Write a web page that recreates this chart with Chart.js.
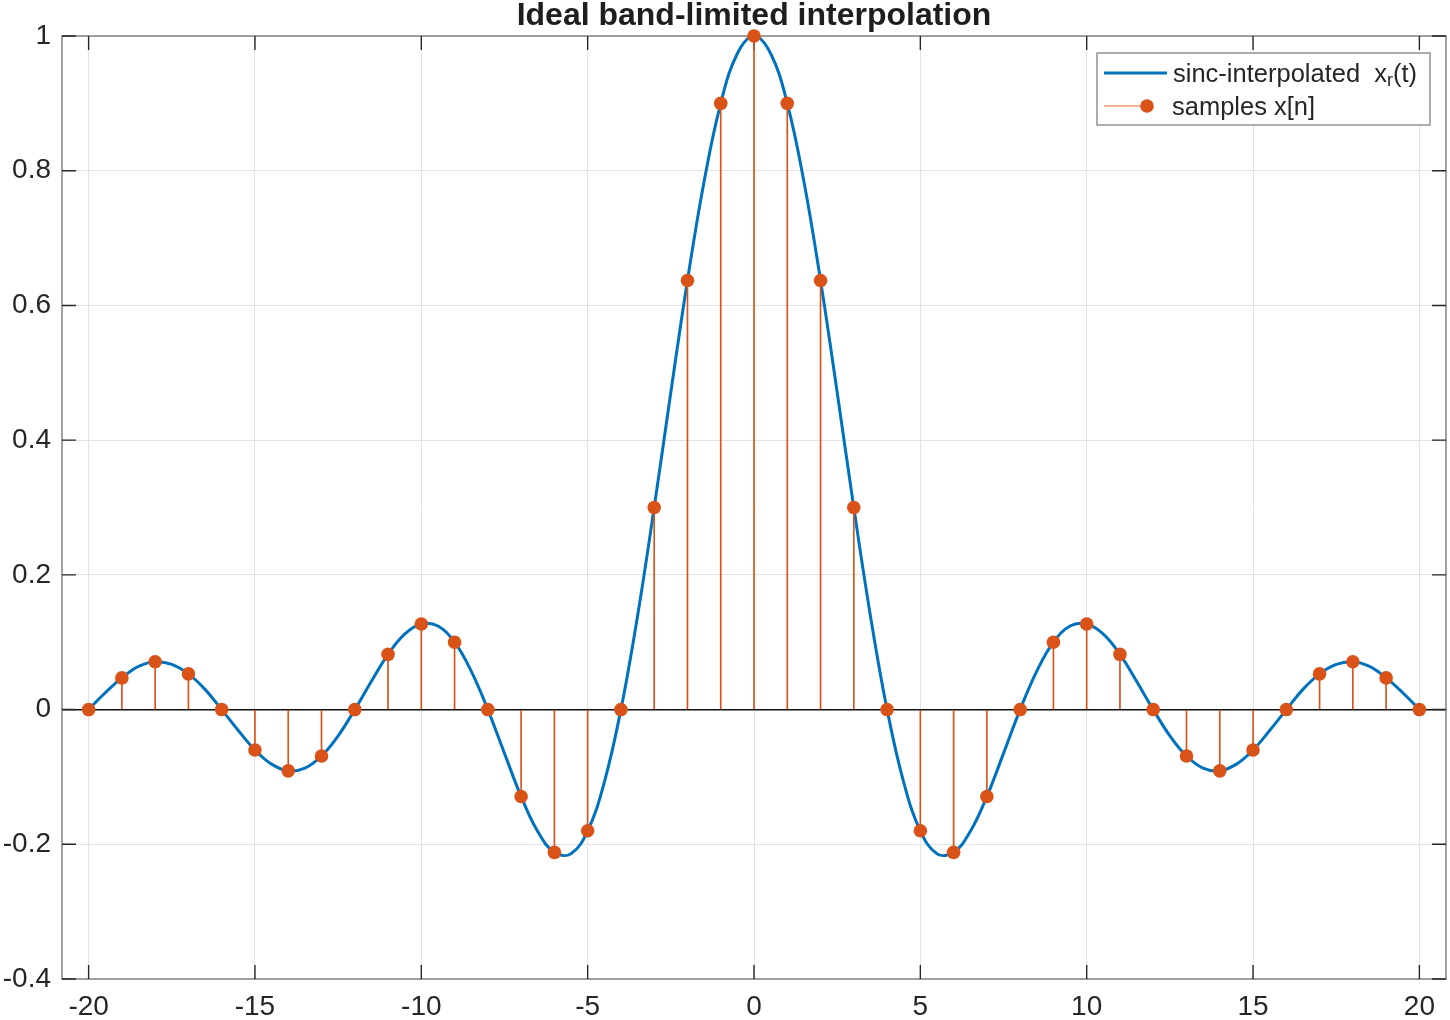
<!DOCTYPE html>
<html><head><meta charset="utf-8">
<script src="https://cdn.jsdelivr.net/npm/chart.js@4.4.0/dist/chart.umd.min.js"></script>
<style>html,body{margin:0;padding:0;background:#fff;} canvas{display:block;}</style>
</head><body>
<canvas id="c" width="1450" height="1020" style="width:1450px;height:1020px"></canvas>
<script>
// continuous sinc-interpolated curve x_r(t), read at half-unit steps
const curveT = [-20,-19.5,-19,-18.5,-18,-17.5,-17,-16.5,-16,-15.5,-15,-14.5,-14,-13.5,-13,-12.5,-12,-11.5,-11,-10.5,-10,-9.5,-9,-8.5,-8,-7.5,-7,-6.5,-6,-5.5,-5,-4.5,-4,-3.5,-3,-2.5,-2,-1.5,-1,-0.5,0,0.5,1,1.5,2,2.5,3,3.5,4,4.5,5,5.5,6,6.5,7,7.5,8,8.5,9,9.5,10,10.5,11,11.5,12,12.5,13,13.5,14,14.5,15,15.5,16,16.5,17,17.5,18,18.5,19,19.5,20];
const curveY = [0,0.025,0.047,0.064,0.071,0.067,0.053,0.030,0,-0.031,-0.060,-0.081,-0.091,-0.087,-0.069,-0.039,0,0.042,0.082,0.112,0.127,0.124,0.100,0.057,0,-0.065,-0.129,-0.181,-0.212,-0.214,-0.180,-0.108,0,0.139,0.300,0.471,0.637,0.784,0.900,0.974,1,0.974,0.900,0.784,0.637,0.471,0.300,0.139,0,-0.108,-0.180,-0.214,-0.212,-0.181,-0.129,-0.065,0,0.057,0.100,0.124,0.127,0.112,0.082,0.042,0,-0.039,-0.069,-0.087,-0.091,-0.081,-0.060,-0.031,0,0.030,0.053,0.067,0.071,0.064,0.047,0.025,0];
// samples x[n]
const sampleN = [-20,-19,-18,-17,-16,-15,-14,-13,-12,-11,-10,-9,-8,-7,-6,-5,-4,-3,-2,-1,0,1,2,3,4,5,6,7,8,9,10,11,12,13,14,15,16,17,18,19,20];
const sampleX = [0,0.047,0.071,0.053,0,-0.060,-0.091,-0.069,0,0.082,0.127,0.100,0,-0.129,-0.212,-0.180,0,0.300,0.637,0.900,1,0.900,0.637,0.300,0,-0.180,-0.212,-0.129,0,0.100,0.127,0.082,0,-0.069,-0.091,-0.060,0,0.053,0.071,0.047,0];
const xTicks = [-20,-15,-10,-5,0,5,10,15,20];
const xTickLabels = ['-20','-15','-10','-5','0','5','10','15','20'];
const yTicks = [-0.4,-0.2,0,0.2,0.4,0.6,0.8,1];
const yTickLabels = ['-0.4','-0.2','0','0.2','0.4','0.6','0.8','1'];
const titleText = 'Ideal band-limited interpolation';
const legendCurveMain = 'sinc-interpolated  x';
const legendCurveSub = 'r';
const legendCurveTail = '(t)';
const legendSamples = 'samples x[n]';

const FONT = '"Liberation Sans", Arial, Helvetica, sans-serif';
const BLUE = '#0072BD';
const ORANGE = '#D95319';
const TXT = '#262626';

const framePlugin = {
  id: 'frame',
  beforeDatasetsDraw(chart) {
    const ctx = chart.ctx, a = chart.chartArea;
    const xs = chart.scales.x, ys = chart.scales.y;
    ctx.save();
    ctx.strokeStyle = '#8a8a8a';
    ctx.lineWidth = 1.6;
    ctx.strokeRect(a.left, a.top, a.right - a.left, a.bottom - a.top);
    ctx.strokeStyle = TXT;
    ctx.lineWidth = 1.4;
    const L = 14;
    ctx.beginPath();
    xTicks.forEach(v => {
      const px = xs.getPixelForValue(v);
      ctx.moveTo(px, a.bottom); ctx.lineTo(px, a.bottom - L);
      ctx.moveTo(px, a.top); ctx.lineTo(px, a.top + L);
    });
    yTicks.forEach(v => {
      const py = ys.getPixelForValue(v);
      ctx.moveTo(a.left, py); ctx.lineTo(a.left + L, py);
      ctx.moveTo(a.right, py); ctx.lineTo(a.right - L, py);
    });
    ctx.stroke();
    ctx.restore();
  }
};

const legendPlugin = {
  id: 'customLegend',
  afterDatasetsDraw(chart) {
    const ctx = chart.ctx, a = chart.chartArea;
    const right = a.right - 16, top = a.top + 17;
    const w = 333, h = 72;
    const left = right - w;
    ctx.save();
    ctx.fillStyle = '#fff';
    ctx.fillRect(left, top, w, h);
    ctx.strokeStyle = '#8a8a8a';
    ctx.lineWidth = 1.4;
    ctx.strokeRect(left, top, w, h);
    const r1 = top + 20, r2 = top + 53;
    // curve entry
    ctx.strokeStyle = BLUE; ctx.lineWidth = 3;
    ctx.beginPath(); ctx.moveTo(left + 7, r1); ctx.lineTo(left + 70, r1); ctx.stroke();
    // samples entry
    ctx.strokeStyle = '#ec9a70'; ctx.lineWidth = 1.5;
    ctx.beginPath(); ctx.moveTo(left + 7, r2); ctx.lineTo(left + 50, r2); ctx.stroke();
    ctx.fillStyle = ORANGE;
    ctx.beginPath(); ctx.arc(left + 50, r2, 6.8, 0, Math.PI * 2); ctx.fill();
    // texts
    ctx.fillStyle = TXT;
    ctx.textBaseline = 'alphabetic';
    ctx.textAlign = 'left';
    ctx.font = '25.5px ' + FONT;
    let tx = left + 76;
    ctx.fillText(legendCurveMain, tx, r1 + 9);
    tx += ctx.measureText(legendCurveMain).width;
    ctx.font = '18px ' + FONT;
    ctx.fillText(legendCurveSub, tx, r1 + 13);
    tx += ctx.measureText(legendCurveSub).width;
    ctx.font = '25.5px ' + FONT;
    ctx.fillText(legendCurveTail, tx, r1 + 9);
    ctx.fillText(legendSamples, left + 75, r2 + 9);
    ctx.restore();
  }
};

new Chart(document.getElementById('c'), {
  type: 'scatter',
  data: {
    datasets: [
      {
        type: 'line',
        label: 'sinc-interpolated x_r(t)',
        data: curveT.map((t, i) => ({x: t, y: curveY[i]})),
        borderColor: BLUE,
        borderWidth: 3,
        pointRadius: 0,
        tension: 0.4,
        fill: false,
        order: 3
      },
      {
        type: 'bar',
        label: 'stems',
        data: sampleN.map((n, i) => ({x: n, y: sampleX[i]})),
        backgroundColor: ORANGE,
        borderWidth: 0,
        barThickness: 1,
        grouped: false,
        order: 2
      },
      {
        type: 'scatter',
        label: 'samples x[n]',
        data: sampleN.map((n, i) => ({x: n, y: sampleX[i]})),
        backgroundColor: ORANGE,
        borderColor: ORANGE,
        borderWidth: 0,
        pointRadius: 6.8,
        showLine: false,
        clip: false,
        order: 1
      }
    ]
  },
  options: {
    responsive: false,
    devicePixelRatio: 1,
    animation: false,
    events: [],
    layout: {autoPadding: false, padding: {left: 0, right: 4, top: 0, bottom: 0}},
    plugins: {
      legend: {display: false},
      tooltip: {enabled: false},
      title: {
        display: true,
        text: titleText,
        fullSize: false,
        color: '#1e1e1e',
        font: {family: FONT, size: 32, weight: 'bold', lineHeight: 1},
        padding: {top: 0, bottom: 4}
      }
    },
    scales: {
      x: {
        type: 'linear',
        min: -20.8,
        max: 20.8,
        offset: false,
        afterBuildTicks(s) { s.ticks = xTicks.map(v => ({value: v})); },
        afterFit(s) { s.height = 41; s.paddingLeft = 0; s.paddingRight = 0; },
        ticks: {
          autoSkip: false, maxRotation: 0, minRotation: 0,
          padding: 11,
          color: TXT,
          font: {family: FONT, size: 28},
          callback: (v, i) => xTickLabels[i]
        },
        grid: {color: '#e3e3e3', lineWidth: 1, drawTicks: false, offset: false},
        border: {display: false}
      },
      y: {
        type: 'linear',
        min: -0.4,
        max: 1,
        afterBuildTicks(s) { s.ticks = yTicks.map(v => ({value: v})); },
        afterFit(s) { s.width = 62; s.paddingTop = 0; s.paddingBottom = 0; },
        ticks: {
          padding: 11,
          color: TXT,
          font: {family: FONT, size: 28},
          callback: (v, i) => yTickLabels[i]
        },
        grid: {
          color: c => (c.tick && Math.abs(c.tick.value) < 1e-9) ? '#111' : '#e3e3e3',
          lineWidth: c => (c.tick && Math.abs(c.tick.value) < 1e-9) ? 1.5 : 1,
          drawTicks: false
        },
        border: {display: false}
      }
    }
  },
  plugins: [framePlugin, legendPlugin]
});
</script>
</body></html>
